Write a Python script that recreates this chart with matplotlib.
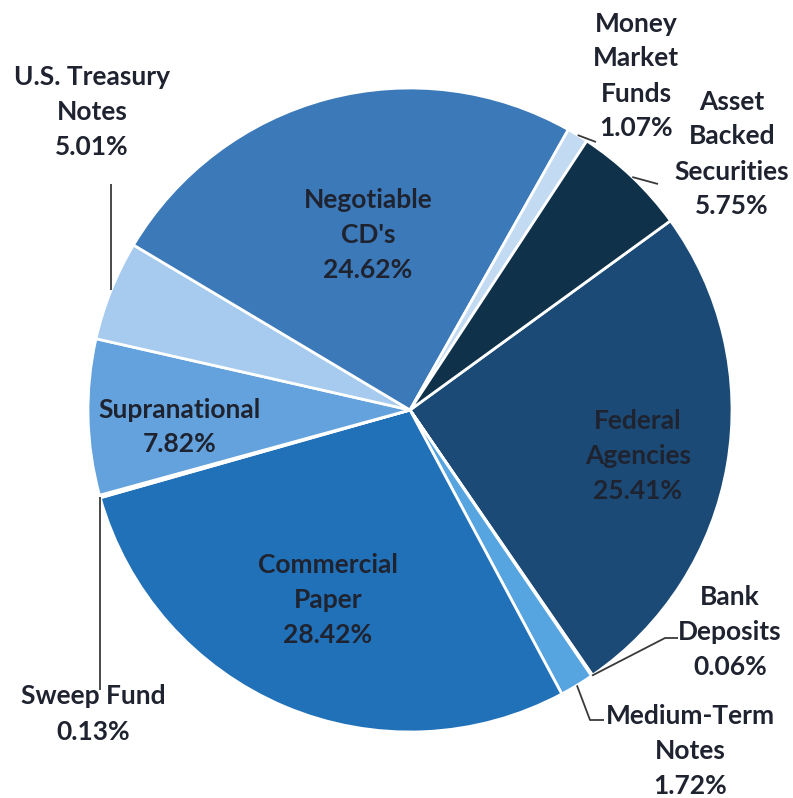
import numpy as np
import matplotlib.pyplot as plt

# portfolio composition, clockwise from Federal Agencies
labels = ['Federal\nAgencies', 'Bank\nDeposits', 'Medium-Term\nNotes', 'Commercial\nPaper',
          'Sweep Fund', 'Supranational', 'U.S. Treasury\nNotes', 'Negotiable\nCD\'s',
          'Money\nMarket\nFunds', 'Asset\nBacked\nSecurities']
shares = [25.41, 0.06, 1.72, 28.42, 0.13, 7.82, 5.01, 24.62, 1.07, 5.75]
colors = ['#1a4a75', '#1a4a75', '#56a5e0', '#2171b8', '#5ea0da', '#63a2dc',
          '#a6cbee', '#3b79b9', '#c3dbf2', '#0f3149']

W, H = 793, 798
cx, cy, R = 410, H - 410, 322

fig = plt.figure(figsize=(W / 100, H / 100), dpi=100)
ax = fig.add_axes([0, 0, 1, 1])

wedges, _ = ax.pie(shares, colors=colors, startangle=36, counterclock=False,
                   center=(cx, cy), radius=R,
                   wedgeprops=dict(edgecolor='white', linewidth=2))
ax.set_xlim(0, W)
ax.set_ylim(0, H)
ax.set_aspect('equal')
ax.axis('off')

font = dict(family='Lato', fontweight='bold', fontsize=19, color='#1f2330',
            ha='center', va='center', linespacing=1.55)

def txt(i, x, y):
    ax.text(x, H - y, f'{labels[i]}\n{shares[i]:.2f}%', **font)

def edge(i):
    w = wedges[i]
    a = np.radians((w.theta1 + w.theta2) / 2)
    return cx + R * np.cos(a), cy + R * np.sin(a)

def leader(i, pts):
    x0, y0 = edge(i)
    xs = [x0] + [p[0] for p in pts]
    ys = [y0] + [H - p[1] for p in pts]
    ax.plot(xs, ys, color='#3a3a3a', lw=1.3, solid_capstyle='butt')

# labels inside the pie
txt(0, 638, 456)
txt(3, 328, 600)
txt(5, 180, 427)
txt(7, 368, 235)

# outside labels with leader lines
txt(8, 636, 76)
leader(8, [(596, 142)])
txt(9, 732, 154)
leader(9, [(658, 184)])
txt(6, 92, 112)
leader(6, [(edge(6)[0], 184)])
txt(4, 93, 714)
leader(4, [(edge(4)[0], 690)])
txt(1, 730, 632)
leader(1, [(665, 638), (678, 638)])
txt(2, 690, 751)
leader(2, [(590, 720), (604, 720)])

fig.savefig('out.png', dpi=100, facecolor='white')
